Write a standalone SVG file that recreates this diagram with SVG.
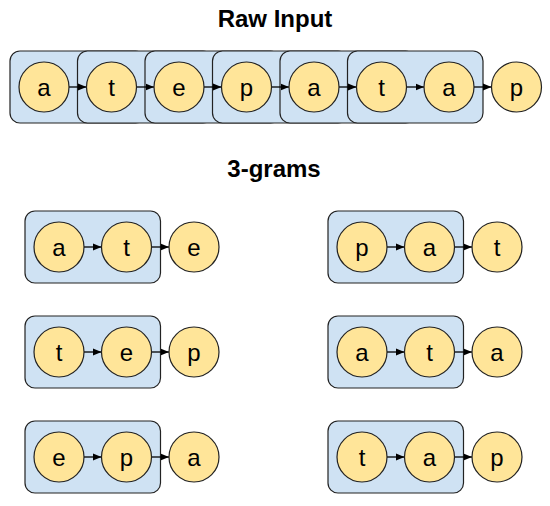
<svg xmlns="http://www.w3.org/2000/svg" width="550" height="506" viewBox="0 0 550 506">
<defs>
<style>
.bg{fill:#fff}
.box{fill:#cfe2f3;stroke:#222;stroke-width:1.2}
.node circle{fill:#ffe599;stroke:#222;stroke-width:1.2}
.node text{font-family:"Liberation Sans",Arial,sans-serif;font-size:24px;fill:#000;text-anchor:middle}
.title{font-family:"Liberation Sans",Arial,sans-serif;font-size:24px;font-weight:bold;fill:#000;text-anchor:middle}
.edge{stroke:#000;stroke-width:1.3;fill:none;marker-end:url(#ah)}
</style>
<marker id="ah" markerWidth="9" markerHeight="8" refX="8.5" refY="4" orient="auto" markerUnits="userSpaceOnUse">
<path d="M0,0.5 L8.5,4 L0,7.5 z" fill="#000"/>
</marker>
</defs>
<rect class="bg" x="0" y="0" width="550" height="506"/>
<text class="title" x="275" y="27">Raw Input</text>
<text class="title" x="274" y="177">3-grams</text>

<g id="raw-boxes">
<rect class="box" x="10" y="51" width="135.5" height="72" rx="10"/>
<rect class="box" x="77.5" y="51" width="135.5" height="72" rx="10"/>
<rect class="box" x="145" y="51" width="135.5" height="72" rx="10"/>
<rect class="box" x="212.5" y="51" width="135.5" height="72" rx="10"/>
<rect class="box" x="280" y="51" width="135.5" height="72" rx="10"/>
<rect class="box" x="347.5" y="51" width="135.5" height="72" rx="10"/>
</g>
<g id="gram-boxes">
<rect class="box" x="25" y="211" width="135.5" height="72" rx="10"/>
<rect class="box" x="25" y="316" width="135.5" height="72" rx="10"/>
<rect class="box" x="25" y="421" width="135.5" height="72" rx="10"/>
<rect class="box" x="328" y="211" width="135.5" height="72" rx="10"/>
<rect class="box" x="328" y="316" width="135.5" height="72" rx="10"/>
<rect class="box" x="328" y="421" width="135.5" height="72" rx="10"/>
</g>

<g id="connectors">
<line class="edge" x1="69" y1="87" x2="86.5" y2="87"/>
<line class="edge" x1="136.5" y1="87" x2="154" y2="87"/>
<line class="edge" x1="204" y1="87" x2="221.5" y2="87"/>
<line class="edge" x1="271.5" y1="87" x2="289" y2="87"/>
<line class="edge" x1="339" y1="87" x2="356.5" y2="87"/>
<line class="edge" x1="406.5" y1="87" x2="424" y2="87"/>
<line class="edge" x1="474" y1="87" x2="491.5" y2="87"/>

<line class="edge" x1="84" y1="247" x2="101.5" y2="247"/>
<line class="edge" x1="151.5" y1="247" x2="169" y2="247"/>
<line class="edge" x1="84" y1="352" x2="101.5" y2="352"/>
<line class="edge" x1="151.5" y1="352" x2="169" y2="352"/>
<line class="edge" x1="84" y1="457" x2="101.5" y2="457"/>
<line class="edge" x1="151.5" y1="457" x2="169" y2="457"/>

<line class="edge" x1="387" y1="247" x2="404.5" y2="247"/>
<line class="edge" x1="454.5" y1="247" x2="472" y2="247"/>
<line class="edge" x1="387" y1="352" x2="404.5" y2="352"/>
<line class="edge" x1="454.5" y1="352" x2="472" y2="352"/>
<line class="edge" x1="387" y1="457" x2="404.5" y2="457"/>
<line class="edge" x1="454.5" y1="457" x2="472" y2="457"/>
</g>

<g id="r0" class="node"><circle cx="44" cy="87" r="25"/><text x="44" y="95.5">a</text></g>
<g id="r1" class="node"><circle cx="111.5" cy="87" r="25"/><text x="111.5" y="95.5">t</text></g>
<g id="r2" class="node"><circle cx="179" cy="87" r="25"/><text x="179" y="95.5">e</text></g>
<g id="r3" class="node"><circle cx="246.5" cy="87" r="25"/><text x="246.5" y="95.5">p</text></g>
<g id="r4" class="node"><circle cx="314" cy="87" r="25"/><text x="314" y="95.5">a</text></g>
<g id="r5" class="node"><circle cx="381.5" cy="87" r="25"/><text x="381.5" y="95.5">t</text></g>
<g id="r6" class="node"><circle cx="449" cy="87" r="25"/><text x="449" y="95.5">a</text></g>
<g id="r7" class="node"><circle cx="516.5" cy="87" r="25"/><text x="516.5" y="95.5">p</text></g>

<g id="g1a" class="node"><circle cx="59" cy="247" r="25"/><text x="59" y="255.5">a</text></g>
<g id="g1b" class="node"><circle cx="126.5" cy="247" r="25"/><text x="126.5" y="255.5">t</text></g>
<g id="g1c" class="node"><circle cx="194" cy="247" r="25"/><text x="194" y="255.5">e</text></g>

<g id="g2a" class="node"><circle cx="59" cy="352" r="25"/><text x="59" y="360.5">t</text></g>
<g id="g2b" class="node"><circle cx="126.5" cy="352" r="25"/><text x="126.5" y="360.5">e</text></g>
<g id="g2c" class="node"><circle cx="194" cy="352" r="25"/><text x="194" y="360.5">p</text></g>

<g id="g3a" class="node"><circle cx="59" cy="457" r="25"/><text x="59" y="465.5">e</text></g>
<g id="g3b" class="node"><circle cx="126.5" cy="457" r="25"/><text x="126.5" y="465.5">p</text></g>
<g id="g3c" class="node"><circle cx="194" cy="457" r="25"/><text x="194" y="465.5">a</text></g>

<g id="g4a" class="node"><circle cx="362" cy="247" r="25"/><text x="362" y="255.5">p</text></g>
<g id="g4b" class="node"><circle cx="429.5" cy="247" r="25"/><text x="429.5" y="255.5">a</text></g>
<g id="g4c" class="node"><circle cx="497" cy="247" r="25"/><text x="497" y="255.5">t</text></g>

<g id="g5a" class="node"><circle cx="362" cy="352" r="25"/><text x="362" y="360.5">a</text></g>
<g id="g5b" class="node"><circle cx="429.5" cy="352" r="25"/><text x="429.5" y="360.5">t</text></g>
<g id="g5c" class="node"><circle cx="497" cy="352" r="25"/><text x="497" y="360.5">a</text></g>

<g id="g6a" class="node"><circle cx="362" cy="457" r="25"/><text x="362" y="465.5">t</text></g>
<g id="g6b" class="node"><circle cx="429.5" cy="457" r="25"/><text x="429.5" y="465.5">a</text></g>
<g id="g6c" class="node"><circle cx="497" cy="457" r="25"/><text x="497" y="465.5">p</text></g>
</svg>
